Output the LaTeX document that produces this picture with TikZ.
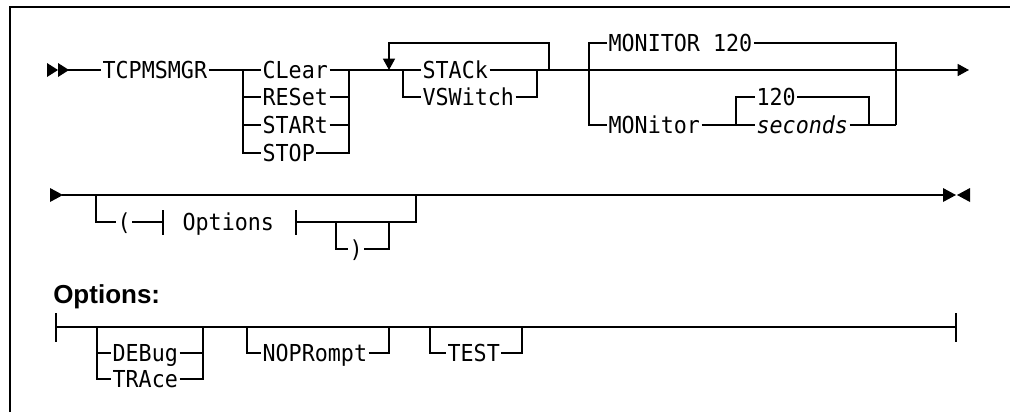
\documentclass[tikz,border=0pt]{standalone}
\usepackage{fontspec}
\setmonofont[FakeStretch=0.93]{DejaVu Sans Mono}
\newfontfamily\lblfont{Liberation Sans}
\usetikzlibrary{arrows.meta}
\begin{document}
\begin{tikzpicture}[x=0.75pt,y=-0.75pt,
  rr/.style={line width=1.1pt},
  kw/.style={font=\ttfamily\fontsize{17.5}{17.5}\selectfont, inner xsep=1pt, inner ysep=0pt,
             text height=12.76pt, text depth=0pt, anchor=west},
  tipend/.style={-{Triangle[width=9pt,length=8.5pt]}},
  frame/.style={line width=1.4pt}
]
\useasboundingbox (0,0) rectangle (1010,412);
\draw[frame] (10,412) -- (10,7) -- (1010,7);

% ---------- row 1 ----------
\fill (47,63) -- (58,70) -- (47,77) -- cycle;
\fill (58,63) -- (69,70) -- (58,77) -- cycle;
\coordinate (a1) at (68,70);
\node[kw] (tcp) at (101,70) {TCPMSMGR};
\node[kw] (clr) at (261,70) {CLear};
\node[kw] (rst) at (261,97) {RESet};
\node[kw] (srt) at (261,125) {STARt};
\node[kw] (stp) at (261,153) {STOP};
\node[kw] (stk) at (421,70) {STACk};
\node[kw] (vsw) at (421,97) {VSWitch};
\node[kw] (m120) at (607,43) {MONITOR 120};
\node[kw] (mon) at (607,125) {MONitor};
\node[kw] (n120) at (755,97) {120};
\node[kw] (sec) at (755,125) {\itshape seconds};

\coordinate (j1L) at (243,70);
\coordinate (j1R) at (349,70);
\coordinate (lpL) at (389,70);
\coordinate (j2L) at (403,70);
\coordinate (j2R) at (537,70);
\coordinate (lpR) at (549,70);
\coordinate (j3L) at (589,70);
\coordinate (j3R) at (896,125);
\coordinate (j4L) at (736,125);
\coordinate (j4R) at (869,125);
\coordinate (e1) at (969,70);

\draw[rr] (a1) -- (tcp.west);
\draw[rr] (tcp.east) -- (clr.west);
\draw[rr] (j1L) |- (rst.west);
\draw[rr] (j1L) |- (srt.west);
\draw[rr] (j1L) |- (stp.west);
\draw[rr] (rst.east) -| (j1R);
\draw[rr] (srt.east) -| (j1R);
\draw[rr] (stp.east) -| (j1R);
\draw[rr] (clr.east) -- (stk.west);
\draw[rr] (j2L) |- (vsw.west);
\draw[rr] (vsw.east) -| (j2R);
\draw[rr,tipend] (lpR) -- ++(0,-27) -| (lpL);
\draw[rr,tipend] (stk.east) -- (e1);
\draw[rr] (j3L) |- (m120.west);
\draw[rr] (m120.east) -| (j3R);
\draw[rr] (j3L) |- (mon.west);
\draw[rr] (mon.east) -- (sec.west);
\draw[rr] (j4L) |- (n120.west);
\draw[rr] (n120.east) -| (j4R);
\draw[rr] (sec.east) -- (j3R);

% ---------- row 2 ----------
\fill (50,188) -- (63,195) -- (50,202) -- cycle;
\coordinate (a2) at (62,195);
\fill (943,188) -- (956,195) -- (943,202) -- cycle;
\fill (970,188) -- (957,195) -- (970,202) -- cycle;
\coordinate (e2) at (943,195);
\draw[rr] (a2) -- (e2);

\node[kw] (lp) at (116,222) {(};
\node[kw] (opt) at (181,222) {Options};
\node[kw] (rp) at (348,249) {)};
\coordinate (bL) at (163,222);
\coordinate (bR) at (296,222);
\coordinate (j5L) at (96,195);
\coordinate (j6R) at (416,195);
\coordinate (j7L) at (336,222);
\coordinate (j7R) at (389,222);
\draw[rr] (j5L) |- (lp.west);
\draw[rr] (lp.east) -- (bL);
\draw[rr] (bL) ++(0,-12) -- ++(0,25);
\draw[rr] (bR) ++(0,-12) -- ++(0,25);
\draw[rr] (bR) -| (j6R);
\draw[rr] (j7L) |- (rp.west);
\draw[rr] (rp.east) -| (j7R);

% ---------- row 3 ----------
\node[font=\lblfont\bfseries\fontsize{19.5}{19.5}\selectfont, anchor=base west, inner sep=0pt]
  (olbl) at (53,303) {Options:};
\coordinate (b3L) at (56,327);
\coordinate (b3R) at (956,327);
\draw[rr] (b3L) -- (b3R);
\draw[rr] (b3L) ++(0,-14) -- ++(0,29);
\draw[rr] (b3R) ++(0,-14) -- ++(0,29);

\node[kw] (dbg) at (111,353) {DEBug};
\node[kw] (trc) at (111,379) {TRAce};
\node[kw] (nop) at (261,353) {NOPRompt};
\node[kw] (tst) at (446,353) {TEST};
\coordinate (j8L) at (97,327);
\coordinate (j8R) at (203,327);
\coordinate (j9L) at (247,327);
\coordinate (j9R) at (389,327);
\coordinate (j10L) at (430,327);
\coordinate (j10R) at (522,327);
\draw[rr] (j8L) |- (dbg.west);
\draw[rr] (j8L) |- (trc.west);
\draw[rr] (dbg.east) -| (j8R);
\draw[rr] (trc.east) -| (j8R);
\draw[rr] (j9L) |- (nop.west);
\draw[rr] (nop.east) -| (j9R);
\draw[rr] (j10L) |- (tst.west);
\draw[rr] (tst.east) -| (j10R);
\end{tikzpicture}
\end{document}
